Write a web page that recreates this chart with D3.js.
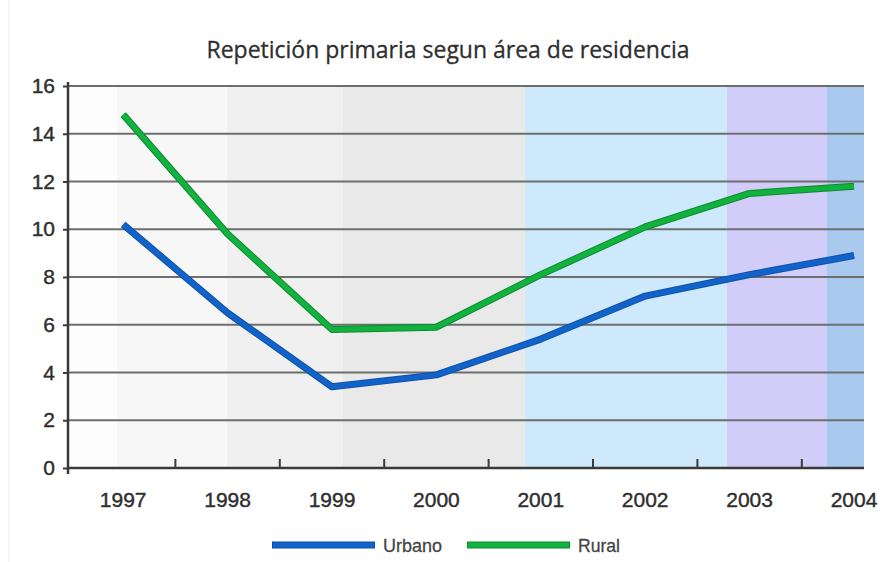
<!DOCTYPE html>
<html>
<head>
<meta charset="utf-8">
<script src="https://cdn.jsdelivr.net/npm/d3@7"></script>
<style>
  body { margin: 0; background: #fff; }
  svg { display: block; }
</style>
</head>
<body>
<div id="chart"></div>
<script>
// data
let years = ["1997", "1998", "1999", "2000", "2001", "2002", "2003", "2004"];
let urbano = [10.2, 6.5, 3.4, 3.9, 5.4, 7.2, 8.1, 8.9];
let rural = [14.8, 9.8, 5.8, 5.9, 8.1, 10.1, 11.5, 11.8];
let yTicks = [0, 2, 4, 6, 8, 10, 12, 14, 16];
let seriesNames = ["Urbano", "Rural"];

// background shading strips (x start in px, colour)
let bgStrips = [
    [68, "#fdfdfd"], [117, "#f7f7f7"], [227, "#f0f0f0"], [343, "#e9e9e9"],
    [525, "#cde9fb"], [727, "#d1cdf8"], [827, "#a9c9ef"]
];

let width = 883, height = 562;
let plot = {left: 68, right: 864, top: 86, bottom: 468};

let svg = d3.select("#chart").append("svg")
    .attr("width", width)
    .attr("height", height);

// faint frame line on the left edge
svg.append("line")
    .attr("x1", 9).attr("x2", 9).attr("y1", 0).attr("y2", height)
    .attr("stroke", "#ececec").attr("stroke-width", 1);

let x = d3.scaleBand().domain(years).range([71, 71 + 8 * 104.4]).padding(0);
let y = d3.scaleLinear().domain([0, 16]).range([plot.bottom, plot.top]);

// background strips
bgStrips.forEach(function(s, i) {
    let x2 = i < bgStrips.length - 1 ? bgStrips[i + 1][0] : plot.right;
    svg.append("rect")
        .attr("x", s[0]).attr("y", plot.top)
        .attr("width", x2 - s[0]).attr("height", plot.bottom - plot.top)
        .attr("fill", s[1]);
});

// gridlines
svg.append("g").selectAll("line")
    .data(yTicks.filter(function(d) { return d > 0; }))
    .enter().append("line")
    .attr("x1", plot.left).attr("x2", plot.right)
    .attr("y1", function(d) { return y(d); })
    .attr("y2", function(d) { return y(d); })
    .attr("stroke", "#6e6e6e")
    .attr("stroke-width", 2);

let labelFont = "'Liberation Sans', Arial, sans-serif";

// y axis
let yAxis = svg.append("g")
    .attr("transform", "translate(" + plot.left + ",0)")
    .call(d3.axisLeft(y).tickValues(yTicks).tickSize(5).tickPadding(8));
yAxis.select(".domain").attr("stroke", "#3a3a3a").attr("stroke-width", 2.5)
    .attr("d", "M0," + (plot.bottom + 6) + "V" + (plot.top - 4));
yAxis.selectAll(".tick line").attr("stroke", "#3a3a3a").attr("stroke-width", 2);
yAxis.selectAll("text")
    .attr("font-family", labelFont)
    .attr("font-size", 21)
    .attr("fill", "#2e2e2e")
    .attr("stroke", "#2e2e2e")
    .attr("stroke-width", 0.4);

// x axis: ticks on band boundaries, labels on band centres
let xg = svg.append("g");
xg.append("line")
    .attr("x1", plot.left).attr("x2", plot.right)
    .attr("y1", plot.bottom).attr("y2", plot.bottom)
    .attr("stroke", "#3a3a3a").attr("stroke-width", 2.5);
xg.selectAll(".xt")
    .data(years.slice(1))
    .enter().append("line")
    .attr("x1", function(d) { return x(d); })
    .attr("x2", function(d) { return x(d); })
    .attr("y1", plot.bottom - 9).attr("y2", plot.bottom + 1)
    .attr("stroke", "#3a3a3a").attr("stroke-width", 2);
xg.selectAll(".xl")
    .data(years)
    .enter().append("text")
    .attr("x", function(d) { return x(d) + x.bandwidth() / 2; })
    .attr("y", 507)
    .attr("text-anchor", "middle")
    .attr("font-family", labelFont)
    .attr("font-size", 21)
    .attr("fill", "#2e2e2e")
    .attr("stroke", "#2e2e2e")
    .attr("stroke-width", 0.4)
    .text(function(d) { return d; });

// lines
let line = d3.line()
    .x(function(d, i) { return x(years[i]) + x.bandwidth() / 2; })
    .y(function(d) { return y(d); });

let colors = {Urbano: "#1263c9", Rural: "#12b23e"};
let outlines = {Urbano: "#0d52a8", Rural: "#0b8a30"};

[["Urbano", urbano], ["Rural", rural]].forEach(function(s) {
    svg.append("path")
        .datum(s[1])
        .attr("d", line)
        .attr("fill", "none")
        .attr("stroke", outlines[s[0]])
        .attr("stroke-width", 7)
        .attr("stroke-linejoin", "round");
    svg.append("path")
        .datum(s[1])
        .attr("d", line)
        .attr("fill", "none")
        .attr("stroke", colors[s[0]])
        .attr("stroke-width", 5)
        .attr("stroke-linejoin", "round");
});

// title
svg.append("text")
    .attr("x", 448)
    .attr("y", 58)
    .attr("text-anchor", "middle")
    .attr("font-family", "'Open Sans', sans-serif")
    .attr("font-size", 24)
    .attr("fill", "#2e2e2e")
    .attr("stroke", "#2e2e2e")
    .attr("stroke-width", 0.3)
    .attr("textLength", 483)
    .attr("lengthAdjust", "spacingAndGlyphs")
    .text("Repetición primaria segun área de residencia");

// legend
let legend = svg.append("g");
let legendX = [272, 467];
let legendTextW = [59, 42];
seriesNames.forEach(function(name, i) {
    legend.append("line")
        .attr("x1", legendX[i]).attr("x2", legendX[i] + 103)
        .attr("y1", 545).attr("y2", 545)
        .attr("stroke", outlines[name]).attr("stroke-width", 7);
    legend.append("line")
        .attr("x1", legendX[i] + 1).attr("x2", legendX[i] + 102)
        .attr("y1", 545).attr("y2", 545)
        .attr("stroke", colors[name]).attr("stroke-width", 5);
    legend.append("text")
        .attr("x", legendX[i] + 111)
        .attr("y", 552)
        .attr("font-family", labelFont)
        .attr("font-size", 19)
        .attr("fill", "#444")
        .attr("stroke", "#444")
        .attr("stroke-width", 0.3)
        .attr("textLength", legendTextW[i])
        .attr("lengthAdjust", "spacingAndGlyphs")
        .text(name);
});
</script>
</body>
</html>
